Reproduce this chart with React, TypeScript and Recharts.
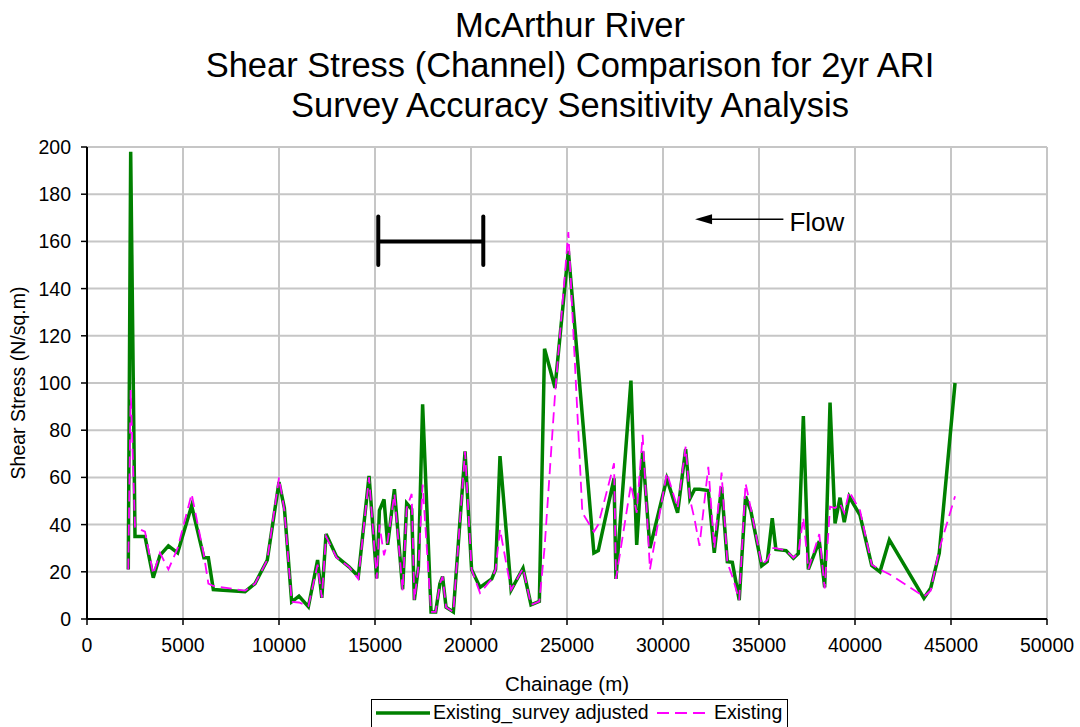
import React from "react";
import {
  LineChart,
  Line,
  XAxis,
  YAxis,
  CartesianGrid,
  ReferenceLine,
} from "recharts";

const chainage = [
  2150, 2275, 2500, 3020, 3450, 3800, 4240, 4720, 5450, 6090,
  6320, 6580, 8230, 8750, 9390, 10000, 10280, 10660, 11040, 11530,
  12010, 12230, 12450, 13000, 13660, 14130, 14690, 15090, 15230, 15470,
  15660, 16010, 16440, 16650, 16910, 17050, 17260, 17480, 17920, 18160,
  18380, 18520, 18700, 19080, 19690, 20030, 20470, 21080, 21280, 21510,
  22090, 22710, 23125, 23560, 23830, 24375, 25070, 25800, 26400, 26630,
  27450, 27550, 28330, 28630, 28940, 29320, 30200, 30760, 31180, 31400,
  31650, 31900, 32360, 32670, 33050, 33350, 33610, 33970, 34300, 34570,
  35140, 35430, 35690, 35880, 36410, 36790, 37050, 37310, 37570, 38140,
  38420, 38700, 38960, 39220, 39440, 39700, 40260, 40870, 41300, 41790,
  43590, 43940, 44390, 45210,
];

// Existing_survey adjusted (green)
const adjusted = [
  21, 198, 35, 35, 17.5, 27, 31, 28, 48, 26,
  26, 12.5, 11.6, 15, 25, 58, 47, 7.3, 9.7, 5.2,
  25, 9, 36, 26.4, 22, 18, 60.6, 17.2, 46, 50.7,
  31.4, 55, 12.6, 49, 46.5, 8, 22, 91, 3, 3,
  15, 18, 5, 3, 71, 21, 13.4, 17, 21, 69,
  12.3, 21.5, 6, 7.5, 114.5, 98, 156, 86, 28, 29,
  59.6, 17, 101, 31.4, 71, 30, 59.5, 45, 72, 51,
  55, 55, 54.4, 28, 56, 24.3, 24, 8, 52, 46,
  22.5, 24.3, 42.7, 29.5, 29, 25.7, 27.8, 86, 21, 33,
  13.4, 91.7, 40.5, 51.4, 41, 51.8, 44, 22.7, 20, 33.5,
  8.8, 13, 28, 100,
];

// Existing (magenta dashed)
const existing = [
  21, 97, 39, 37, 19, 28, 21, 30, 53, 27,
  15, 14, 12, 15, 25, 60, 46, 7.3, 7, 5.5,
  23, 9, 35, 26, 22, 17, 60, 17, 40, 27,
  33, 53, 12, 47, 53, 8, 22, 57, 3, 3,
  15, 18, 5, 3, 71, 21, 11, 17, 21, 38,
  12.3, 21.5, 6, 7.5, 30, 95, 164, 45, 37, 40,
  66, 17, 57, 45, 78, 21, 62, 47, 73, 51,
  42, 31, 64.5, 30, 62, 24, 18, 8, 57.5, 47,
  23, 25, 30, 30, 29, 26, 28, 43, 21, 36,
  13, 47.6, 47, 49, 45, 54, 46, 23, 21, 19,
  9.5, 12, 29.6, 52,
];

const xTicks = [0, 5000, 10000, 15000, 20000, 25000, 30000, 35000, 40000, 45000, 50000];
const yTicks = [0, 20, 40, 60, 80, 100, 120, 140, 160, 180, 200];

const titleLines = [
  "McArthur River",
  "Shear Stress (Channel) Comparison for 2yr ARI",
  "Survey Accuracy Sensitivity Analysis",
];

const data = chainage.map((c, i) => ({
  chainage: c,
  adjusted: adjusted[i],
  existing: existing[i],
}));

const FONT = "'Liberation Sans', Arial, sans-serif";
const GREEN = "#008000";
const MAGENTA = "#ff00ff";

const FlowArrow = (props: any) => {
  const { x1, y1, x2, y2 } = props;
  return (
    <g>
      <line x1={x1} y1={y1} x2={x2 + 14} y2={y2} stroke="#000" strokeWidth={1.5} />
      <polygon points={`${x2},${y2} ${x2 + 17},${y2 - 5} ${x2 + 17},${y2 + 5}`} fill="#000" />
      <text x={x1 + 6} y={y1 + 12} fontSize={26} fontFamily={FONT} fill="#000">
        Flow
      </text>
    </g>
  );
};

const YLabel = () => (
  <text
    x={25}
    y={383}
    transform="rotate(-90 25 383)"
    textAnchor="middle"
    fontSize={19.5}
    fontFamily={FONT}
    fill="#000"
  >
    Shear Stress (N/sq.m)
  </text>
);

const XLabel = () => (
  <text x={567} y={691} textAnchor="middle" fontSize={20.5} fontFamily={FONT} fill="#000">
    Chainage (m)
  </text>
);

export default function App() {
  return (
    <div style={{ position: "absolute", left: 0, top: 0, width: 1080, height: 727, overflow: "hidden", background: "#fff", fontFamily: FONT }}>
      <div
        style={{
          position: "absolute",
          left: 0,
          top: 5,
          width: 1140,
          textAlign: "center",
          fontSize: 34.5,
          lineHeight: "40px",
          color: "#000",
        }}
      >
        {titleLines.map((t) => (
          <div key={t}>{t}</div>
        ))}
      </div>

      <LineChart
        width={1080}
        height={727}
        data={data}
        margin={{ top: 147, right: 33, bottom: 28, left: 0 }}
      >
        <CartesianGrid stroke="#c6c6c6" strokeWidth={2} />
        <XAxis
          dataKey="chainage"
          type="number"
          domain={[0, 50000]}
          ticks={xTicks}
          interval={0}
          height={80}
          tickSize={6}
          tickMargin={13}
          axisLine={{ stroke: "#000", strokeWidth: 2 }}
          tickLine={{ stroke: "#000", strokeWidth: 1.5 }}
          tick={{ fill: "#000", fontSize: 19.5, fontFamily: FONT }}
          label={<XLabel />}
        />
        <YAxis
          type="number"
          domain={[0, 200]}
          ticks={yTicks}
          interval={0}
          width={87}
          tickSize={6}
          tickMargin={10}
          axisLine={{ stroke: "#000", strokeWidth: 2 }}
          tickLine={{ stroke: "#000", strokeWidth: 1.5 }}
          tick={{ fill: "#000", fontSize: 19.5, fontFamily: FONT }}
          label={<YLabel />}
        />
        <ReferenceLine segment={[{ x: 15170, y: 160 }, { x: 20640, y: 160 }]} stroke="#000" strokeWidth={4} />
        <ReferenceLine segment={[{ x: 15170, y: 150 }, { x: 15170, y: 170.5 }]} stroke="#000" strokeWidth={4} strokeLinecap="round" />
        <ReferenceLine segment={[{ x: 20640, y: 150 }, { x: 20640, y: 170.5 }]} stroke="#000" strokeWidth={4} strokeLinecap="round" />
        <ReferenceLine segment={[{ x: 36270, y: 169.4 }, { x: 31670, y: 169.4 }]} shape={FlowArrow} />
        <Line
          type="linear"
          dataKey="adjusted"
          name="Existing_survey adjusted"
          stroke={GREEN}
          strokeWidth={3.5}
          dot={false}
          isAnimationActive={false}
        />
        <Line
          type="linear"
          dataKey="existing"
          name="Existing"
          stroke={MAGENTA}
          strokeWidth={1.8}
          strokeDasharray="11 6"
          dot={false}
          isAnimationActive={false}
        />
      </LineChart>

      {/* legend box */}
      <div
        style={{
          position: "absolute",
          left: 371,
          top: 699,
          width: 417,
          height: 40,
          border: "1px solid #000",
          boxSizing: "border-box",
          fontSize: 19.5,
          lineHeight: "20px",
          color: "#000",
          whiteSpace: "nowrap",
        }}
      >
        <svg width={60} height={12} style={{ position: "absolute", left: 2, top: 7 }}>
          <line x1={2} y1={6} x2={56} y2={6} stroke={GREEN} strokeWidth={3.5} />
        </svg>
        <span style={{ position: "absolute", left: 61, top: 2 }}>Existing_survey adjusted</span>
        <svg width={52} height={12} style={{ position: "absolute", left: 284, top: 7 }}>
          <line x1={1} y1={6} x2={49} y2={6} stroke={MAGENTA} strokeWidth={1.8} strokeDasharray="12 6" />
        </svg>
        <span style={{ position: "absolute", left: 342, top: 2 }}>Existing</span>
      </div>
    </div>
  );
}
